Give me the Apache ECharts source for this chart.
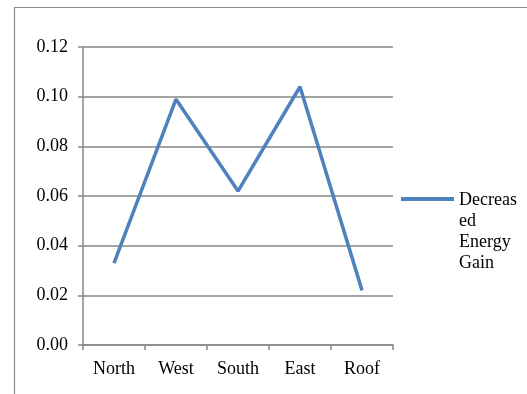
<!DOCTYPE html>
<html>
<head>
<meta charset="utf-8">
<script src="https://cdn.jsdelivr.net/npm/echarts@6/dist/echarts.min.js"></script>
<style>
  html, body { margin: 0; padding: 0; background: #fff; }
  #chart { width: 527px; height: 394px; }
</style>
</head>
<body>
<div id="chart"></div>
<script>
// Orientation categories and the decrease in energy gain for each
const categories = ['North', 'West', 'South', 'East', 'Roof'];
const decreasedEnergyGain = [0.033, 0.099, 0.062, 0.104, 0.022];
const seriesName = 'Decreased Energy Gain';
const legendLines = ['Decreas', 'ed', 'Energy', 'Gain'];

const axisGray = '#868686';
const font = 'Liberation Serif';
const fontSize = 18;

const chart = echarts.init(document.getElementById('chart'));
chart.setOption({
  animation: false,
  backgroundColor: '#ffffff',
  textStyle: { fontFamily: font },
  graphic: [
    {
      // outer frame of the chart area
      type: 'rect',
      shape: { x: 14.5, y: 7.5, width: 600, height: 500 },
      style: { fill: 'none', stroke: '#8c8c8c', lineWidth: 1.2 },
      silent: true
    },
    {
      // series name, wrapped beside the legend swatch
      type: 'text',
      left: 459,
      top: 190,
      style: {
        text: legendLines.join('\n'),
        font: fontSize + 'px ' + font,
        lineHeight: 21,
        fill: '#000'
      },
      silent: true
    }
  ],
  grid: { left: 83, top: 47, right: 134, bottom: 49 },
  legend: {
    left: 396,
    top: 192,
    itemWidth: 53,
    itemHeight: 4,
    icon: 'rect',
    data: [seriesName],
    formatter: () => '',
    textStyle: { fontSize: 1 }
  },
  xAxis: {
    type: 'category',
    data: categories,
    boundaryGap: true,
    axisLine: { lineStyle: { color: axisGray, width: 1.5 } },
    axisTick: { show: true, length: 5, lineStyle: { color: axisGray, width: 1.5 } },
    axisLabel: { color: '#000', fontSize: fontSize, fontFamily: font, margin: 15 }
  },
  yAxis: {
    type: 'value',
    min: 0,
    max: 0.12,
    interval: 0.02,
    axisLine: { show: true, lineStyle: { color: axisGray, width: 1.5 } },
    axisTick: { show: true, length: 5, lineStyle: { color: axisGray, width: 1.5 } },
    splitLine: { lineStyle: { color: axisGray, width: 1.5 } },
    axisLabel: {
      color: '#000', fontSize: fontSize, fontFamily: font, margin: 15,
      formatter: v => v.toFixed(2)
    }
  },
  series: [{
    name: seriesName,
    type: 'line',
    data: decreasedEnergyGain,
    showSymbol: false,
    symbol: 'none',
    lineStyle: { color: '#4f81bd', width: 3.5 },
    itemStyle: { color: '#4f81bd' }
  }]
});
</script>
</body>
</html>
